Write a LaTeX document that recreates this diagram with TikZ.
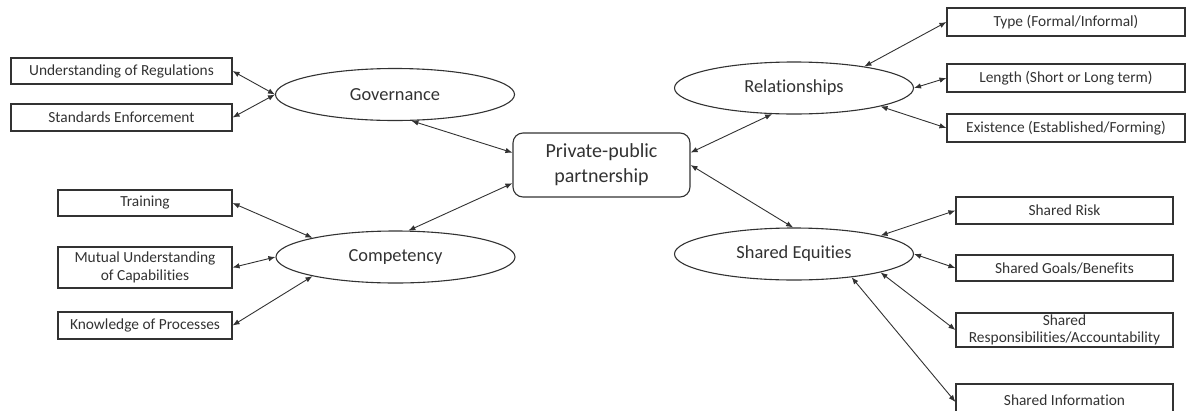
\documentclass[tikz,border=0pt]{standalone}
\usepackage{fontspec}
\setmainfont{Carlito}[Ligatures=NoCommon]
\usepackage{tikz}
\usetikzlibrary{shapes.geometric, arrows.meta, calc}
\definecolor{ink}{RGB}{50,50,50}

\begin{document}
\begin{tikzpicture}[x=1pt, y=-1pt,
    item/.style={draw=ink, line width=1.1pt, text=ink, inner sep=0pt, align=center, font=\fontsize{15.4}{18}\selectfont},
    theme/.style={draw=ink, ellipse, line width=1.1pt, text=ink, inner sep=0pt, minimum width=239pt, minimum height=52pt, font=\fontsize{18.4}{22}\selectfont},
    hub/.style={draw=ink, rounded corners=10pt, line width=1.1pt, text=ink, inner sep=0pt, align=center, minimum width=177pt, minimum height=64pt, font=\fontsize{20}{25}\selectfont},
    link/.style={draw=ink, line width=0.9pt, >={Latex[length=7pt,width=5.5pt]}, <->}]
    \useasboundingbox (0,0) rectangle (1186,410);
    \node[hub] (ctr) at (601.5,165) {Private-public\\partnership};
    \node[theme] (gov) at (395,94.5) {Governance};
    \node[theme] (comp) at (395.5,257) {Competency};
    \node[theme] (rel) at (794,88) {Relationships};
    \node[theme] (eq) at (794,254) {Shared Equities};
    \node[item, minimum width=221pt, minimum height=26pt] (regs) at (121.5,71) {Understanding of Regulations};
    \node[item, minimum width=221pt, minimum height=27pt] (stds) at (121.5,117.5) {Standards Enforcement};
    \node[item, minimum width=174pt, minimum height=26pt] (train) at (145,203) {Training};
    \node[item, minimum width=174pt, minimum height=41pt] (mutual) at (145,267.5) {Mutual Understanding\\of Capabilities};
    \node[item, minimum width=174pt, minimum height=27pt] (know) at (145,325.5) {Knowledge of Processes};
    \node[item, minimum width=238pt, minimum height=28pt] (type) at (1066,22) {Type (Formal/Informal)};
    \node[item, minimum width=238pt, minimum height=28pt] (length) at (1066,78) {Length (Short or Long term)};
    \node[item, minimum width=238pt, minimum height=28pt] (exist) at (1066,128) {Existence (Established/Forming)};
    \node[item, minimum width=217pt, minimum height=27pt] (risk) at (1064.5,210.5) {Shared Risk};
    \node[item, minimum width=217pt, minimum height=26pt] (goals) at (1064.5,268) {Shared Goals/Benefits};
    \node[item, minimum width=217pt, minimum height=34pt, font=\fontsize{15.4}{16.5}\selectfont] (resp) at (1064.5,330) {Shared\\Responsibilities/Accountability};
    \node[item, minimum width=217pt, minimum height=32pt, text depth=0pt] (info) at (1064.5,400) {Shared Information};
    \draw[link] (regs.east) -- (gov.west);
    \draw[link] (stds.east) -- (gov.west);
    \draw[link] (gov.-58) -- ($(ctr.north west)!0.31!(ctr.south west)$);
    \draw[link] (comp.64) -- ($(ctr.north west)!0.78!(ctr.south west)$);
    \draw[link] (train.east) -- (comp.167);
    \draw[link] (mutual.east) -- (comp.west);
    \draw[link] (know.east) -- (comp.193);
    \draw[link] ($(ctr.north east)!0.31!(ctr.south east)$) -- (rel.230);
    \draw[link] (rel.17) -- (type.west);
    \draw[link] (rel.east) -- (length.west);
    \draw[link] (rel.-12) -- (exist.west);
    \draw[link] (ctr.east) -- (eq.92);
    \draw[link] (eq.12) -- (risk.west);
    \draw[link] (eq.east) -- (goals.west);
    \draw[link] (eq.-12) -- (resp.west);
    \draw[link] (eq.-22) -- ([yshift=-2pt]info.west);
\end{tikzpicture}
\end{document}
